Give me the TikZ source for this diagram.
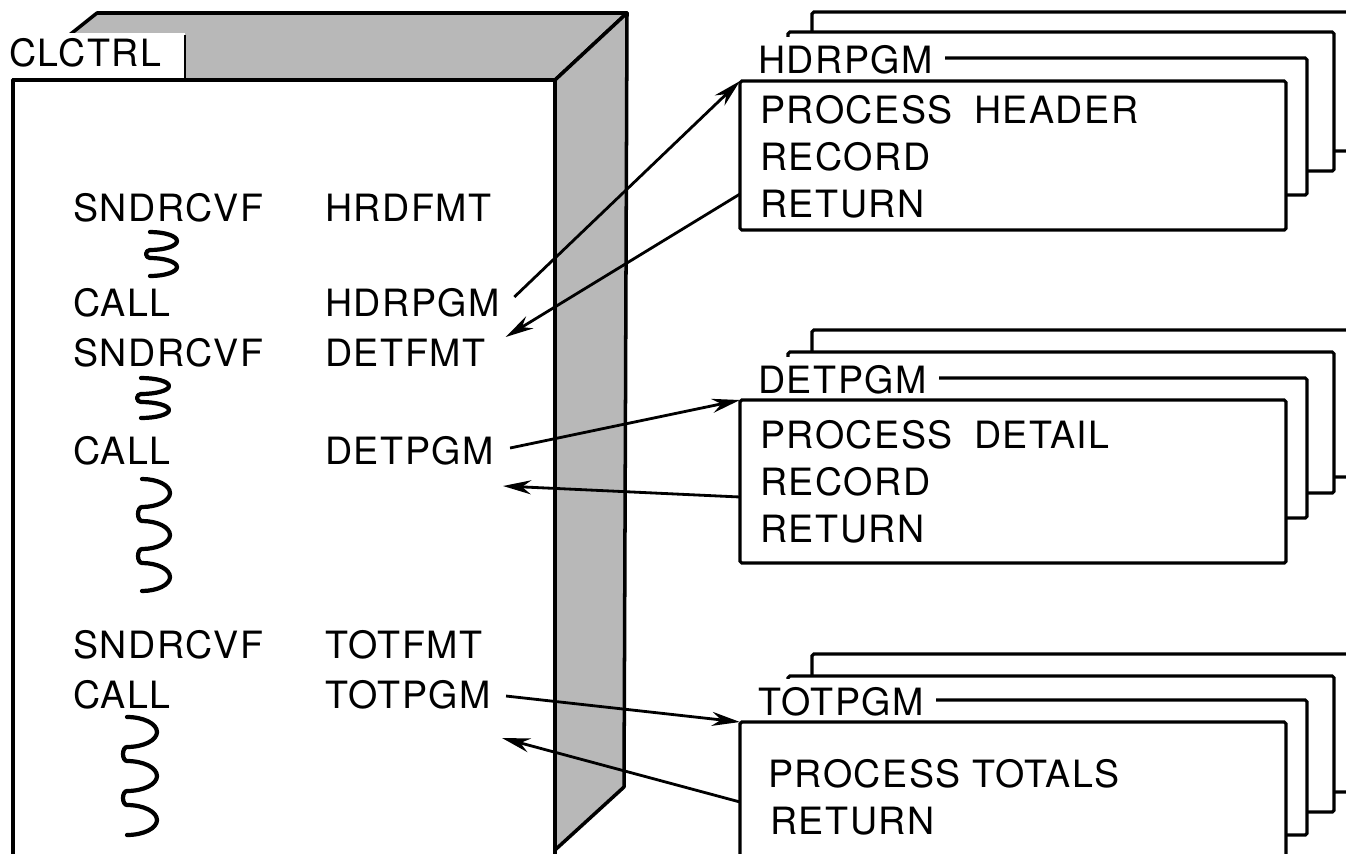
\documentclass[tikz,border=0pt]{standalone}
\usepackage{fontspec}
\setmainfont{TeX Gyre Heros}[LetterSpace=4]
\usetikzlibrary{arrows.meta}

\begin{document}
\begin{tikzpicture}[x=0.02cm, y=-0.02cm,
  frame/.style={draw, line width=2pt, line join=round},
  tint/.style={fill=black!28},
  sheet/.style={draw, line width=1.8pt, fill=white, rounded corners=1pt},
  stmt/.style={anchor=west, inner sep=0pt, font={\fontsize{21.4}{26}\selectfont}},
  pgmname/.style={stmt, fill=white, inner xsep=0.24cm, inner ysep=0.18cm},
  callarrow/.style={line width=1.6pt, -{Stealth[length=16pt,width=8pt]}},
  wiggle/.style={line width=2.4pt, line cap=round, line join=round},
  bend right/.style={start angle=-90, end angle=90, x radius=#1},
  bend left/.style={start angle=-90, end angle=-270, x radius=#1}]
  \useasboundingbox (0,0) rectangle (1346,853);
  \fill[white] (0,0) rectangle (1346,853);
  \clip (0,0) rectangle (1346,853);

  % CLCTRL block
  \draw[frame, tint] (13,80) -- (97,13) -- (627,13) -- (555,80) -- cycle;
  \draw[frame, tint] (555,80) -- (627,13) -- (624,787) -- (555,850) -- cycle;
  \draw[frame, fill=white] (13,80) rectangle (555,900);
  \fill[white] (0,33) rectangle (185,78);
  \draw[line width=1.2pt] (185,35) -- (185,78);
  \node[stmt] (ctlname) at (9,53) {CLCTRL};

  \node[stmt] (snd1) at (73,208) {SNDRCVF};
  \node[stmt] (fmt1) at (325,208) {HRDFMT};
  \node[stmt] (call1) at (73,303) {CALL};
  \node[stmt] (pgm1) at (325,303) {HDRPGM};
  \node[stmt] (snd2) at (73,353) {SNDRCVF};
  \node[stmt] (fmt2) at (325,353) {DETFMT};
  \node[stmt] (call2) at (73,451) {CALL};
  \node[stmt] (pgm2) at (325,451) {DETPGM};
  \node[stmt] (snd3) at (73,645) {SNDRCVF};
  \node[stmt] (fmt3) at (325,645) {TOTFMT};
  \node[stmt] (call3) at (73,695) {CALL};
  \node[stmt] (pgm3) at (325,695) {TOTPGM};

  % elided code
  \draw[wiggle] (150,232) arc[bend right=27, y radius=9] arc[bend left=4, y radius=4]
    arc[bend right=27, y radius=9];
  \draw[wiggle] (141,378) arc[bend right=28, y radius=8] arc[bend left=4, y radius=4]
    arc[bend right=28, y radius=8];
  \draw[wiggle] (142,479) arc[bend right=28, y radius=14] arc[bend left=4, y radius=7]
    arc[bend right=28, y radius=14] arc[bend left=4, y radius=7]
    arc[bend right=28, y radius=14];
  \draw[wiggle] (127,717) arc[bend right=30, y radius=15] arc[bend left=4, y radius=7]
    arc[bend right=30, y radius=15] arc[bend left=4, y radius=7]
    arc[bend right=30, y radius=15];

  % HDRPGM stack
  \draw[sheet] (812,12) rectangle (1380,151);
  \draw[sheet] (788,32) rectangle (1334,171);
  \draw[sheet] (765,58) rectangle (1307,195);
  \node[pgmname] (hdrname) at (746,60) {HDRPGM};
  \draw[sheet] (740,81) rectangle (1286,230);
  \coordinate (hdrtop) at (740,81);
  \coordinate (hdrret) at (740,194);
  \node[stmt] (hdr1) at (760,110) {PROCESS\hspace{0.25em} HEADER};
  \node[stmt] (hdr2) at (760,157) {RECORD};
  \node[stmt] (hdr3) at (760,204) {RETURN};

  % DETPGM stack
  \draw[sheet] (812,330) rectangle (1380,477);
  \draw[sheet] (788,352) rectangle (1334,493);
  \draw[sheet] (765,378) rectangle (1307,518);
  \node[pgmname] (detname) at (746,380) {DETPGM};
  \draw[sheet] (740,400) rectangle (1286,563);
  \coordinate (dettop) at (740,400);
  \coordinate (detret) at (740,497);
  \node[stmt] (det1) at (760,435) {PROCESS\hspace{0.25em} DETAIL};
  \node[stmt] (det2) at (760,482) {RECORD};
  \node[stmt] (det3) at (760,529) {RETURN};

  % TOTPGM stack
  \draw[sheet] (812,654) rectangle (1380,792);
  \draw[sheet] (788,676) rectangle (1334,812);
  \draw[sheet] (765,700) rectangle (1307,835);
  \node[pgmname] (totname) at (746,702) {TOTPGM};
  \draw[sheet] (740,722) rectangle (1286,900);
  \coordinate (tottop) at (740,722);
  \coordinate (totret) at (740,802);
  \node[stmt] (tot1) at (768,774) {PROCESS TOTALS};
  \node[stmt] (tot2) at (770,821) {RETURN};

  % calls and returns
  \coordinate (detback) at (503,486);
  \coordinate (totback) at (502,738);
  \draw[callarrow] ([xshift=0.28cm, yshift=0.12cm]pgm1.east) -- (hdrtop);
  \draw[callarrow] (hdrret) -- ([xshift=0.4cm, yshift=0.32cm]fmt2.east);
  \draw[callarrow] ([xshift=0.32cm, yshift=0.06cm]pgm2.east) -- (dettop);
  \draw[callarrow] (detret) -- (detback);
  \draw[callarrow] ([xshift=0.3cm, yshift=-0.02cm]pgm3.east) -- (tottop);
  \draw[callarrow] (totret) -- (totback);
\end{tikzpicture}
\end{document}
